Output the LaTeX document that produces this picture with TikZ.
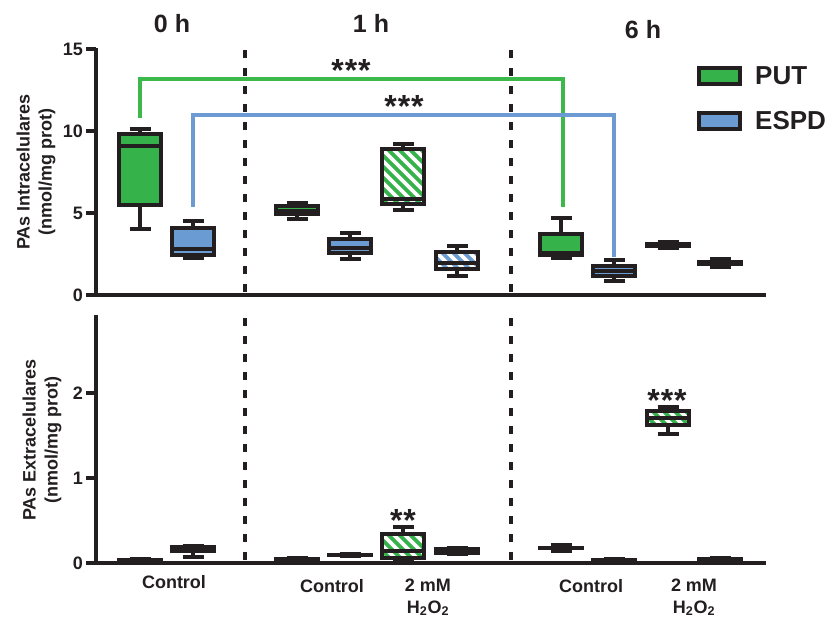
\documentclass[tikz,border=0pt]{standalone}
\usepackage{fontspec}
\setmainfont{Liberation Sans}
\definecolor{ink}{HTML}{231F20}
\definecolor{putg}{HTML}{35B34A}
\definecolor{espb}{HTML}{6A9BD3}
\definecolor{brg}{HTML}{3CB94A}
\definecolor{brb}{HTML}{6B9BD2}
\newcommand{\boxplt}[7]{%
  \draw[wk] (#1,#2) -- (#1,#3) (#1,#5) -- (#1,#6);
  \draw[wk] (#1-10.5,#2) -- (#1+10.5,#2) (#1-10.5,#6) -- (#1+10.5,#6);
  \path[#7] (#1-21,#3) rectangle (#1+21,#5);
  \draw[bx] (#1-21,#3) rectangle (#1+21,#5);
  \draw[wk] (#1-21,#4) -- (#1+21,#4);
}
\begin{document}
\begin{tikzpicture}[x=1pt,y=-1pt,
  axis/.style={ink, line width=3.4pt},
  sep/.style={ink, line width=3.2pt, dash pattern=on 8pt off 10pt},
  bx/.style={draw=ink, line width=3.3pt},
  wk/.style={ink, line width=3.3pt},
  tk/.style={font=\fontsize{18}{18}\selectfont\bfseries, text=ink, anchor=east, inner sep=0pt},
  ylab/.style={font=\fontsize{18}{22}\selectfont\bfseries, text=ink, align=center, rotate=90},
  hdr/.style={font=\fontsize{25}{25}\selectfont\bfseries, text=ink, anchor=base, inner sep=0pt},
  xl/.style={font=\fontsize{18}{22}\selectfont\bfseries, text=ink, anchor=base, align=center, inner sep=0pt},
  star/.style={font=\fontsize{32}{32}\selectfont\bfseries, text=ink, inner sep=0pt},
  leg/.style={font=\fontsize{26}{26}\selectfont\bfseries, text=ink, anchor=west, inner sep=0pt},
  putf/.style={fill=putg},
  espf/.style={fill=espb},
  hatchG/.style={fill=putg, path picture={\foreach \i in {-99,-88,...,55}{\draw[white,line width=3.8pt] ([xshift=\i pt]path picture bounding box.north west) -- ++(110pt,-110pt);}}},
  hatchB/.style={fill=espb, path picture={\foreach \i in {-99,-88,...,55}{\draw[white,line width=3.8pt] ([xshift=\i pt]path picture bounding box.north west) -- ++(110pt,-110pt);}}},
  brG/.style={brg, line width=3.2pt},
  brB/.style={brb, line width=3.2pt}
]
\useasboundingbox (0,0) rectangle (830,620);
\fill[white] (0,0) rectangle (830,620);

% headers
\node[hdr] (h0) at (172,33) {0 h};
\node[hdr] (h1) at (371,33) {1 h};
\node[hdr] (h6) at (643,39) {6 h};

% separators
\draw[sep] (245,50) -- (245,296);
\draw[sep] (511,50) -- (511,296);
\draw[sep] (245,318) -- (245,564);
\draw[sep] (511,318) -- (511,564);

% top axes
\draw[axis] (96,48) -- (96,296.7);
\draw[axis] (94.3,295) -- (766,295);
\foreach \y/\l in {49/15,131/10,213/5,295/0}{
  \draw[axis] (86,\y) -- (96,\y);
  \node[tk] at (83,\y) {\l};
}
\node[ylab] (yl1) at (36,172) {PAs Intracelulares\\(nmol/mg prot)};

% bottom axes
\draw[axis] (96,315) -- (96,564.7);
\draw[axis] (94.3,563) -- (766,563);
\foreach \y/\l in {393/2,478/1,563/0}{
  \draw[axis] (86,\y) -- (96,\y);
  \node[tk] at (83,\y) {\l};
}
\node[ylab] (yl2) at (42,440) {PAs Extracelulares\\(nmol/mg prot)};

% brackets
\draw[brG] (140,118) -- (140,79) -- (563,79) -- (563,207);
\draw[brB] (193,207) -- (193,115) -- (614,115) -- (614,257);
\node[star] (s1) at (351,70) {*\kern1pt*\kern1pt*};
\node[star] (s2) at (404,106) {*\kern1pt*\kern1pt*};

% top boxes
\boxplt{140}{129}{134}{146}{205}{229}{putf}
\boxplt{193}{221}{228}{249}{255}{258}{espf}
\boxplt{297}{203}{206}{211}{214}{219}{putf}
\boxplt{350}{233}{239}{248}{253}{259}{espf}
\boxplt{403}{144}{149}{199}{204}{210}{hatchG}
\boxplt{457}{246}{252}{263}{269}{276}{hatchB}
\boxplt{561}{218}{234}{253}{255}{258}{putf}
\boxplt{614}{260}{266}{271}{276}{281}{espf}
\boxplt{668}{242}{244}{245}{246}{248}{putf}
\boxplt{720}{259}{262}{263}{264}{267}{espf}

% bottom boxes
\boxplt{140}{559}{559.5}{560.5}{561.5}{562}{putf}
\boxplt{193}{546}{547}{549}{551}{557}{espf}
\boxplt{297}{558}{559}{560}{561}{562}{putf}
\boxplt{350}{554}{554.5}{555}{555.5}{556}{espf}
\boxplt{403}{527}{534}{551}{558}{561}{hatchG}
\boxplt{457}{548}{549}{551}{553}{554}{hatchB}
\boxplt{561}{545}{547.5}{548}{548.5}{551}{putf}
\boxplt{614}{559}{559.5}{560.5}{561.5}{562}{espf}
\boxplt{668}{407}{411}{418}{425}{434}{hatchG}
\boxplt{720}{558}{558.5}{559.5}{560.5}{561}{espf}

\node[star] (s3) at (403,520) {*\kern1pt*};
\node[star] (s4) at (667,400) {*\kern1pt*\kern1pt*};

% x labels
\node[xl] (c0) at (174,588) {Control};
\node[xl] (c1) at (332,592) {Control};
\node[xl] (t1) at (428,613) {2 mM\\H\textsubscript{2}O\textsubscript{2}};
\node[xl] (c6) at (591,592) {Control};
\node[xl] (t6) at (694,613) {2 mM\\H\textsubscript{2}O\textsubscript{2}};

% legend
\draw[bx, fill=putg] (699,68) rectangle (740,84);
\node[leg] (lp) at (755,76) {PUT};
\draw[bx, fill=espb] (699,113) rectangle (740,129);
\node[leg] (le) at (755,121) {ESPD};
\end{tikzpicture}
\end{document}
